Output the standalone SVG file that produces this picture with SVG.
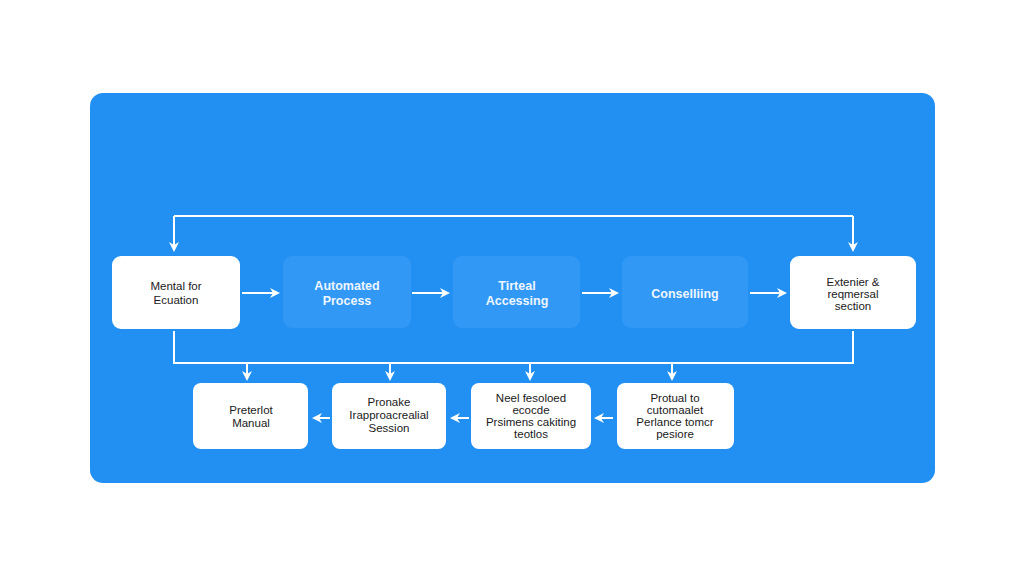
<svg xmlns="http://www.w3.org/2000/svg" width="1024" height="576" viewBox="0 0 1024 576">
<defs>
<style>
.card{fill:#ffffff;}
.soft{fill:#3d9ef8;opacity:0.6;}
.dk{font-family:"Liberation Sans",Arial,sans-serif;font-size:11.5px;fill:#1a1a1a;text-anchor:middle;}
.lt{font-family:"Liberation Sans",Arial,sans-serif;font-size:12.5px;fill:#eef6ff;text-anchor:middle;font-weight:bold;}
.ln{fill:none;stroke:#ffffff;stroke-width:2;}
</style>
<marker id="ah" viewBox="0 0 10 10" refX="8" refY="5" markerWidth="5" markerHeight="5" orient="auto">
<path d="M0,0 L10,5 L0,10 L3,5 z" fill="#ffffff"/>
</marker>
</defs>
<rect width="1024" height="576" fill="#ffffff"/>
<rect x="90" y="93" width="845" height="390" rx="13" fill="#2190f2"/>
<g id="connectors">
<path class="ln" d="M174,216 H853"/>
<path class="ln" d="M853,216 V250" marker-end="url(#ah)"/>
<path class="ln" d="M174,216 V250" marker-end="url(#ah)"/>
<path class="ln" d="M242,293 H278" marker-end="url(#ah)"/>
<path class="ln" d="M412,293 H448" marker-end="url(#ah)"/>
<path class="ln" d="M582,293 H617" marker-end="url(#ah)"/>
<path class="ln" d="M750,293 H785" marker-end="url(#ah)"/>
<path class="ln" d="M174,331 V363 H853 V331"/>
<path class="ln" d="M247,363 V379" marker-end="url(#ah)"/>
<path class="ln" d="M390,363 V379" marker-end="url(#ah)"/>
<path class="ln" d="M530,363 V379" marker-end="url(#ah)"/>
<path class="ln" d="M672,363 V379" marker-end="url(#ah)"/>
<path class="ln" d="M330,418 H314" marker-end="url(#ah)"/>
<path class="ln" d="M469,418 H452" marker-end="url(#ah)"/>
<path class="ln" d="M613,418 H596" marker-end="url(#ah)"/>
</g>
<g id="n1"><rect class="card" x="112" y="256" width="128" height="73" rx="9"/>
<text class="dk" x="176" y="290">Mental for</text><text class="dk" x="176" y="304">Ecuation</text></g>
<g id="n2"><rect class="soft" x="283" y="256" width="128" height="72" rx="9"/>
<text class="lt" x="347" y="290">Automated</text><text class="lt" x="347" y="305">Process</text></g>
<g id="n3"><rect class="soft" x="453" y="256" width="127" height="72" rx="9"/>
<text class="lt" x="517" y="290">Tirteal</text><text class="lt" x="517" y="305">Accessing</text></g>
<g id="n4"><rect class="soft" x="622" y="256" width="126" height="72" rx="9"/>
<text class="lt" x="685" y="298">Conselliing</text></g>
<g id="n5"><rect class="card" x="790" y="256" width="126" height="73" rx="9"/>
<text class="dk" x="853" y="286">Extenier &amp;</text><text class="dk" x="853" y="298">reqmersal</text><text class="dk" x="853" y="310">section</text></g>
<g id="b1"><rect class="card" x="193" y="383" width="115" height="66" rx="8"/>
<text class="dk" x="251" y="414">Preterlot</text><text class="dk" x="251" y="427">Manual</text></g>
<g id="b2"><rect class="card" x="332" y="383" width="114" height="66" rx="8"/>
<text class="dk" x="389" y="406">Pronake</text><text class="dk" x="389" y="419">Irapproacrealial</text><text class="dk" x="389" y="432">Session</text></g>
<g id="b3"><rect class="card" x="471" y="383" width="120" height="66" rx="8"/>
<text class="dk" x="531" y="402">Neel fesoloed</text><text class="dk" x="531" y="414">ecocde</text><text class="dk" x="531" y="426">Prsimens cakiting</text><text class="dk" x="531" y="438">teotlos</text></g>
<g id="b4"><rect class="card" x="617" y="383" width="117" height="66" rx="8"/>
<text class="dk" x="675" y="402">Protual to</text><text class="dk" x="675" y="414">cutomaalet</text><text class="dk" x="675" y="426">Perlance tomcr</text><text class="dk" x="675" y="438">pesiore</text></g>
</svg>
